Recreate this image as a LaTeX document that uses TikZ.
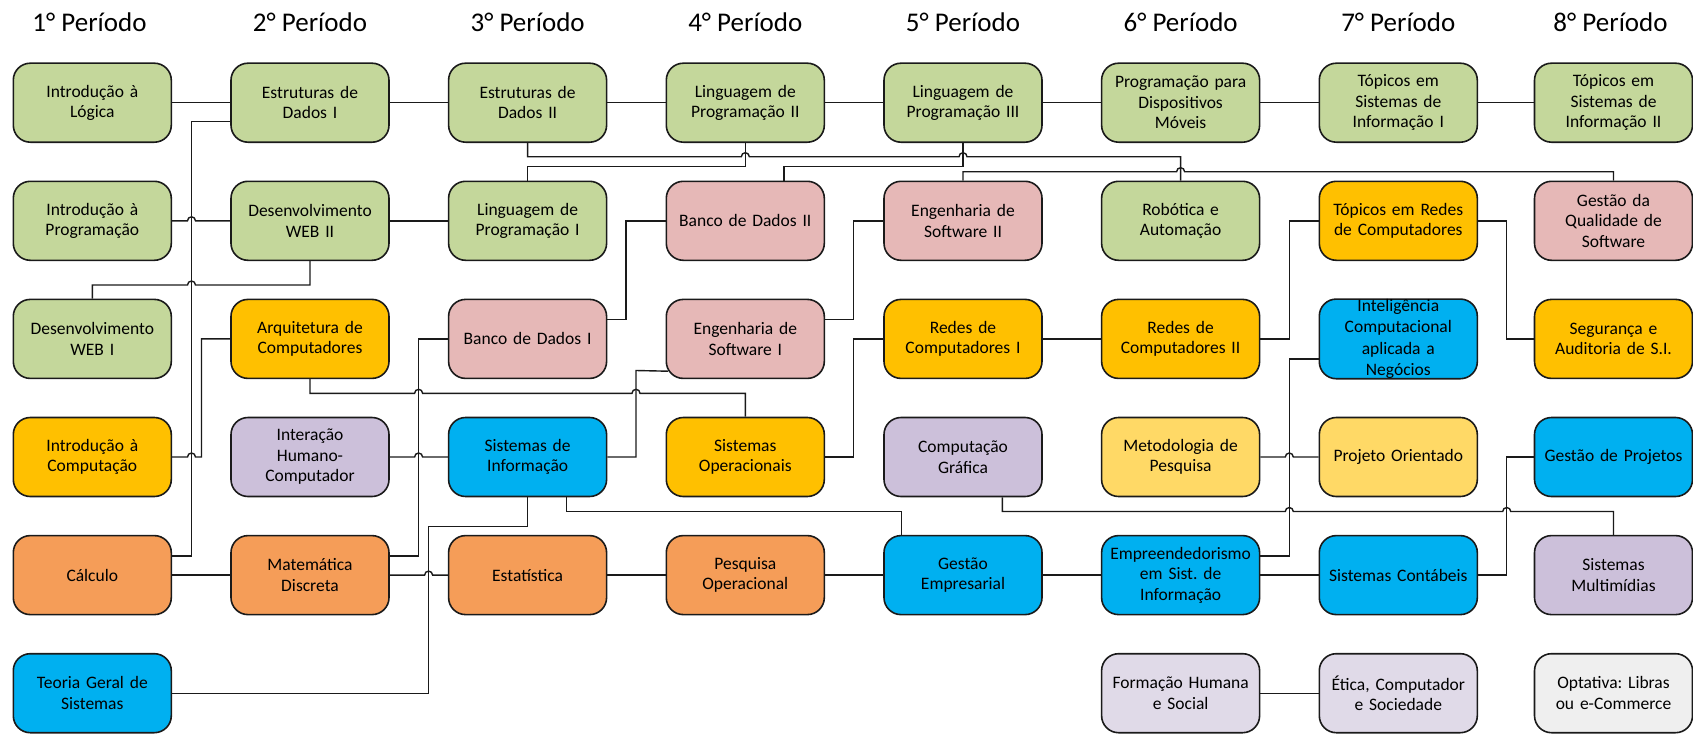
\documentclass[tikz,border=0pt]{standalone}
\usepackage{fontspec}
\setmainfont{Carlito}
\frenchspacing
\usetikzlibrary{calc}
\definecolor{cgreen}{HTML}{C4D79B}
\definecolor{cpink}{HTML}{E6B8B7}
\definecolor{cyel}{HTML}{FFC000}
\definecolor{cpurp}{HTML}{CCC0DA}
\definecolor{clpurp}{HTML}{E0DAE8}
\definecolor{cblue}{HTML}{00B0F0}
\definecolor{corange}{HTML}{F59D58}
\definecolor{clyel}{HTML}{FFD966}
\definecolor{cgray}{HTML}{EFEFEF}
\definecolor{cline}{HTML}{1A1A1A}
\newcommand\hopr[2]{-- ({#1-4},#2) arc[start angle=180,end angle=0,radius=4pt]}
\begin{document}
\begin{tikzpicture}[x=1pt,y=-1pt,
  box/.style={draw=cline, line width=1.6pt, rounded corners=17pt, minimum width=158pt,
    minimum height=79pt, inner sep=0pt, align=center, text width=154pt,
    font=\fontsize{17.5}{20.5}\selectfont},
  conn/.style={draw=cline, line width=1.4pt},
  ttl/.style={font=\fontsize{27}{32}\selectfont, anchor=base}]
\useasboundingbox (0,0) rectangle (1693,733);

% titles
\node[ttl] (t1) at (89.5,31.7) {1° Período};
\node[ttl] (t2) at (310.0,31.7) {2° Período};
\node[ttl] (t3) at (527.6,31.7) {3° Período};
\node[ttl] (t4) at (745.3,31.7) {4° Período};
\node[ttl] (t5) at (963.0,31.7) {5° Período};
\node[ttl] (t6) at (1180.6,31.7) {6° Período};
\node[ttl] (t7) at (1398.3,31.7) {7° Período};
\node[ttl] (t8) at (1610.5,31.7) {8° Período};

% row 0
\node[box,fill=cgreen] (IL) at (92.3,102.7) {Introdução à\\Lógica};
\node[box,fill=cgreen] (ED1) at (310.0,102.7) {Estruturas de\\Dados I};
\node[box,fill=cgreen] (ED2) at (527.6,102.7) {Estruturas de\\Dados II};
\node[box,fill=cgreen] (LP2) at (745.3,102.7) {Linguagem de\\Programação II};
\node[box,fill=cgreen] (LP3) at (963.0,102.7) {Linguagem de\\Programação III};
\node[box,fill=cgreen] (PDM) at (1180.6,102.7) {Programação para\\Dispositivos\\Móveis};
\node[box,fill=cgreen] (TSI1) at (1398.3,102.7) {Tópicos em\\Sistemas de\\Informação I};
\node[box,fill=cgreen] (TSI2) at (1613.5,102.7) {Tópicos em\\Sistemas de\\Informação II};
% row 1
\node[box,fill=cgreen] (IP) at (92.3,220.8) {Introdução à\\Programação};
\node[box,fill=cgreen] (DW2) at (310.0,220.8) {Desenvolvimento\\WEB II};
\node[box,fill=cgreen] (LP1) at (527.6,220.8) {Linguagem de\\Programação I};
\node[box,fill=cpink] (BD2) at (745.3,220.8) {Banco de Dados II};
\node[box,fill=cpink] (ES2) at (963.0,220.8) {Engenharia de\\Software II};
\node[box,fill=cgreen] (ROB) at (1180.6,220.8) {Robótica e\\Automação};
\node[box,fill=cyel] (TRC) at (1398.3,220.8) {Tópicos em Redes\\de Computadores};
\node[box,fill=cpink] (GQS) at (1613.5,220.8) {Gestão da\\Qualidade de\\Software};
% row 2
\node[box,fill=cgreen] (DW1) at (92.3,338.9) {Desenvolvimento\\WEB I};
\node[box,fill=cyel] (ARQ) at (310.0,338.9) {Arquitetura de\\Computadores};
\node[box,fill=cpink] (BD1) at (527.6,338.9) {Banco de Dados I};
\node[box,fill=cpink] (ES1) at (745.3,338.9) {Engenharia de\\Software I};
\node[box,fill=cyel] (RC1) at (963.0,338.9) {Redes de\\Computadores I};
\node[box,fill=cyel] (RC2) at (1180.6,338.9) {Redes de\\Computadores II};
\node[box,fill=cblue,font=\fontsize{17.5}{21.5}\selectfont] (ICN) at (1398.3,338.9) {Inteligência\\Computacional\\aplicada a\\Negócios};
\node[box,fill=cyel] (SAS) at (1613.5,338.9) {Segurança e\\Auditoria de S.I.};
% row 3
\node[box,fill=cyel] (ICO) at (92.3,457.0) {Introdução à\\Computação};
\node[box,fill=cpurp] (IHC) at (310.0,457.0) {Interação\\Humano-\\Computador};
\node[box,fill=cblue] (SI) at (527.6,457.0) {Sistemas de\\Informação};
\node[box,fill=cyel] (SO) at (745.3,457.0) {Sistemas\\Operacionais};
\node[box,fill=cpurp] (CG) at (963.0,457.0) {Computação\\Gráfica};
\node[box,fill=clyel] (MP) at (1180.6,457.0) {Metodologia de\\Pesquisa};
\node[box,fill=clyel] (PO) at (1398.3,457.0) {Projeto Orientado};
\node[box,fill=cblue] (GP) at (1613.5,457.0) {Gestão de Projetos};
% row 4
\node[box,fill=corange] (CAL) at (92.3,575.1) {Cálculo};
\node[box,fill=corange] (MD) at (310.0,575.1) {Matemática\\Discreta};
\node[box,fill=corange] (EST) at (527.6,575.1) {Estatística};
\node[box,fill=corange] (PQO) at (745.3,575.1) {Pesquisa\\Operacional};
\node[box,fill=cblue] (GE) at (963.0,575.1) {Gestão\\Empresarial};
\node[box,fill=cblue] (EMP) at (1180.6,575.1) {Empreendedorismo\\em Sist. de\\Informação};
\node[box,fill=cblue] (SC) at (1398.3,575.1) {Sistemas Contábeis};
\node[box,fill=cpurp] (SM) at (1613.5,575.1) {Sistemas\\Multimídias};
% row 5
\node[box,fill=cblue] (TGS) at (92.3,693.2) {Teoria Geral de\\Sistemas};
\node[box,fill=clpurp] (FHS) at (1180.6,693.2) {Formação Humana\\e Social};
\node[box,fill=clpurp] (ECS) at (1398.3,693.2) {Ética, Computador\\e Sociedade};
\node[box,fill=cgray] (OPT) at (1613.5,693.2) {Optativa: Libras\\ou e-Commerce};

% straight connectors
\draw[conn] (IL) -- (ED1);
\draw[conn] (ED1) -- (ED2);
\draw[conn] (ED2) -- (LP2);
\draw[conn] (LP2) -- (LP3);
\draw[conn] (LP3) -- (PDM);
\draw[conn] (PDM) -- (TSI1);
\draw[conn] (TSI1) -- (TSI2);
\draw[conn] (DW2) -- (LP1);
\draw[conn] (RC1) -- (RC2);
\draw[conn] (CAL) -- (MD);
\draw[conn] (EST) -- (PQO);
\draw[conn] (PQO) -- (GE);
\draw[conn] (GE) -- (EMP);
\draw[conn] (EMP) -- (SC);
\draw[conn] (FHS) -- (ECS);
% straight with hops
\draw[conn] (IP.east) \hopr{191.5}{220.8} -- (DW2.west);
\draw[conn] (IHC.east) \hopr{418.6}{457} -- (SI.west);
\draw[conn] (MP.east) \hopr{1289.3}{457} -- (PO.west);
\draw[conn] (MD.east) \hopr{428.6}{575.1} -- (EST.west);

% elbow connectors
\draw[conn] (CAL.east |- 0,556) -- (191.5,556) -- (191.5,121.7) -- (ED1.west |- 0,121.7);
\draw[conn] (DW1.north) -- (92.3,285) \hopr{191.5}{285} -- (310,285) -- (DW2.south);
\draw[conn] (ICO.east) \hopr{191.5}{457} -- (201.5,457) -- (201.5,338.9) -- (ARQ.west);
\draw[conn] (ARQ.south) -- (310,393.3) \hopr{418.6}{393.3} \hopr{636}{393.3} -- (745.3,393.3) -- (SO.north);
\draw[conn] (MD.east |- 0,556) -- (418.6,556) -- (418.6,338.9) -- (BD1.west);
\draw[conn] (TGS.east) -- (428.6,693.2) -- (428.6,526.7) -- (527.6,526.7) -- (SI.south);
\draw[conn] (SI.south -| 566.7,0) -- (566.7,511.5) -- (901.4,511.5) -- (GE.north -| 901.4,0);
\draw[conn] (SI.east) -- (636,457) -- (636,370.5) -- ($(ES1.south west)+(2.4,-8)$);
\draw[conn] (BD1.east |- 0,319.3) -- (626,319.3) -- (626,220.8) -- (BD2.west);
\draw[conn] (ES1.east |- 0,319.3) -- (853.3,319.3) -- (853.3,220.8) -- (ES2.west);
\draw[conn] (SO.east) -- (853.3,457) -- (853.3,338.9) -- (RC1.west);
\draw[conn] (LP2.south) -- (745.3,166.7) -- (527.6,166.7) -- (LP1.north);
\draw[conn] (ED2.south) -- (527.6,156.7) \hopr{745.3}{156.7} \hopr{963}{156.7} -- (1180.6,156.7) -- (ROB.north);
\draw[conn] (LP3.south) -- (963,166.7) -- (784,166.7) -- (BD2.north -| 784,0);
\draw[conn] (ES2.north) -- (963,171.7) \hopr{1180.6}{171.7} -- (1613.5,171.7) -- (GQS.north);
\draw[conn] (RC2.east) -- (1289.3,338.9) -- (1289.3,220.8) -- (TRC.west);
\draw[conn] (EMP.east |- 0,556) -- (1289.3,556) -- (1289.3,359) -- (ICN.west |- 0,359);
\draw[conn] (TRC.east) -- (1506.7,220.8) -- (1506.7,338.9) -- (SAS.west);
\draw[conn] (SC.east) -- (1506.7,575.1) -- (1506.7,457) -- (GP.west);
\draw[conn] (CG.south -| 1002.3,0) -- (1002.3,511.5) \hopr{1289.3}{511.5} \hopr{1506.7}{511.5} -- (1613.5,511.5) -- (SM.north);
\end{tikzpicture}
\end{document}
